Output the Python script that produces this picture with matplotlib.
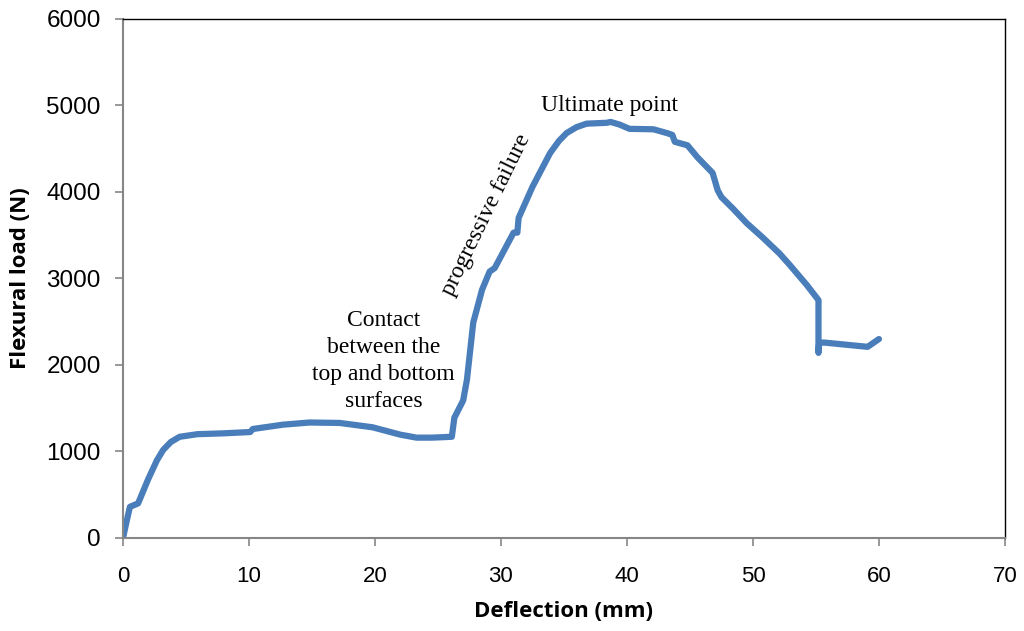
import matplotlib
matplotlib.use("Agg")
import matplotlib.pyplot as plt

# Load-deflection record of the flexural test
deflection_mm = [0.0, 0.3, 0.55, 1.2, 2.0, 2.7, 3.2, 3.8, 4.5, 5.9, 8.0, 10.1, 10.3,
                 12.7, 14.8, 17.2, 19.8, 22.0, 23.3, 24.5, 26.1, 26.3, 27.0, 27.3,
                 27.8, 28.5, 29.1, 29.5, 31.0, 31.3, 31.4, 32.5, 33.9, 34.6, 35.2,
                 36.0, 36.8, 38.4, 38.7, 39.4, 40.2, 42.1, 43.2, 43.6, 43.8, 44.8,
                 45.6, 46.8, 47.2, 47.5, 48.4, 49.5, 50.8, 52.1, 52.9, 54.3, 55.2,
                 55.2, 55.25, 55.6, 57.7, 59.1, 60.0]
load_N = [0, 200, 360, 400, 680, 900, 1020, 1110, 1170, 1200, 1210, 1225, 1260,
          1310, 1335, 1330, 1280, 1195, 1160, 1160, 1170, 1390, 1590, 1830,
          2490, 2870, 3080, 3120, 3530, 3530, 3700, 4060, 4450, 4590, 4680,
          4750, 4790, 4800, 4810, 4780, 4730, 4725, 4680, 4660, 4580, 4540,
          4400, 4220, 4020, 3940, 3810, 3640, 3470, 3290, 3160, 2920, 2750,
          2140, 2250, 2260, 2230, 2210, 2300]

x_ticks = [0, 10, 20, 30, 40, 50, 60, 70]
y_ticks = [0, 1000, 2000, 3000, 4000, 5000, 6000]

fig = plt.figure(figsize=(10.24, 6.31), dpi=100)
ax = fig.add_axes([0.1201, 0.1474, 0.8613, 0.8225])

ax.plot(deflection_mm, load_N, color="#4A7EBB", linewidth=4.5,
        solid_joinstyle="round", solid_capstyle="round")

ax.set_xlim(0, 70)
ax.set_ylim(0, 6000)
ax.set_xticks(x_ticks)
ax.set_yticks(y_ticks)

ax.set_xticklabels([str(v) for v in x_ticks], family="Liberation Sans", size=16)
ax.set_yticklabels([str(v) for v in y_ticks], family="Liberation Sans", size=17.5)
ax.tick_params(axis="both", direction="out", length=6, width=1.2,
               color="#868686", pad=10)
ax.tick_params(axis="x", pad=14)

for side in ("left", "bottom"):
    ax.spines[side].set_color("#868686")
    ax.spines[side].set_linewidth(1.5)
for side in ("top", "right"):
    ax.spines[side].set_color("black")
    ax.spines[side].set_linewidth(1.0)

label_font = dict(family="Open Sans", size=16, weight="bold")
ax.set_xlabel("Deflection (mm)", labelpad=10, **label_font)
ax.set_ylabel("Flexural load (N)", labelpad=11, **label_font)

note_font = dict(family="Liberation Serif", size=17, color="black")
ax.text(20.7, 2050, "Contact\nbetween the\ntop and bottom\nsurfaces",
        ha="center", va="center", linespacing=1.38, **note_font)
ax.text(38.65, 5000, "Ultimate point", ha="center", va="center", **note_font)
ax.text(28.8, 3730, "progressive failure", ha="center", va="center",
        rotation=64, rotation_mode="anchor", **note_font)

fig.savefig("out.png", dpi=100)
